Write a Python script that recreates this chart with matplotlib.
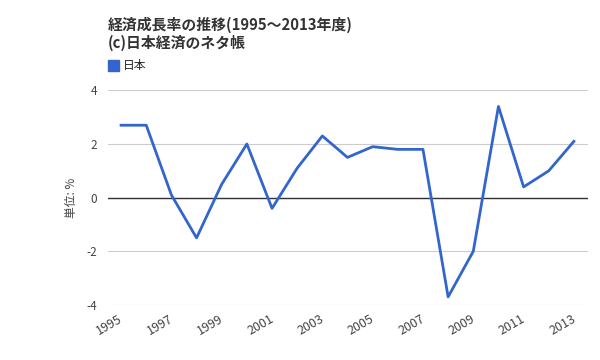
import matplotlib.pyplot as plt
from matplotlib.patches import Rectangle

plt.rcParams['font.family'] = ['Noto Sans CJK JP', 'DejaVu Sans']

years = list(range(1995, 2014))
growth = [2.7, 2.7, 0.1, -1.5, 0.5, 2.0, -0.4, 1.1, 2.3, 1.5,
          1.9, 1.8, 1.8, -3.7, -2.0, 3.4, 0.4, 1.0, 2.1]
xticks = list(range(1995, 2014, 2))
yticks = [-4, -2, 0, 2, 4]

fig = plt.figure(figsize=(6, 3.6), dpi=100)
ax = fig.add_axes([0.18, 0.153, 0.80, 0.596])

for y in yticks:
    ax.axhline(y, color='#cccccc', lw=0.8, zorder=1)
ax.axhline(0, color='#333333', lw=1.0, zorder=2)
ax.plot(years, growth, color='#3366cc', lw=2, zorder=3)

ax.set_xlim(1994.48, 2013.56)
ax.set_ylim(-4, 4)
ax.set_yticks(yticks)
ax.set_yticklabels([str(v) for v in yticks], color='#444444', fontsize=8.5)
ax.set_xticks(xticks)
ax.set_xticklabels([])
ax.tick_params(length=0, pad=8)
# rotated year labels, placed a bit left of and below each tick
for yr in xticks:
    ax.annotate(str(yr), xy=(yr, 0), xycoords=('data', 'axes fraction'),
                xytext=(-11.5, -20), textcoords='offset pixels',
                rotation=30, ha='center', va='center',
                color='#444444', fontsize=9)
for s in ax.spines.values():
    s.set_visible(False)
ax.set_ylabel('単位: %', color='#444444', fontsize=8.5, labelpad=6)

fig.text(0.18, 0.93, '経済成長率の推移(1995〜2013年度)', fontsize=10.7,
         fontweight='bold', color='#333333', va='center')
fig.text(0.18, 0.88, '(c)日本経済のネタ帳', fontsize=10.7,
         fontweight='bold', color='#333333', va='center')
fig.patches.append(Rectangle((0.18, 0.804), 0.018, 0.03, transform=fig.transFigure,
                             color='#3366cc', figure=fig))
fig.text(0.205, 0.819, '日本', fontsize=8.5, color='#222222', va='center')

fig.savefig('out.png', dpi=100)
